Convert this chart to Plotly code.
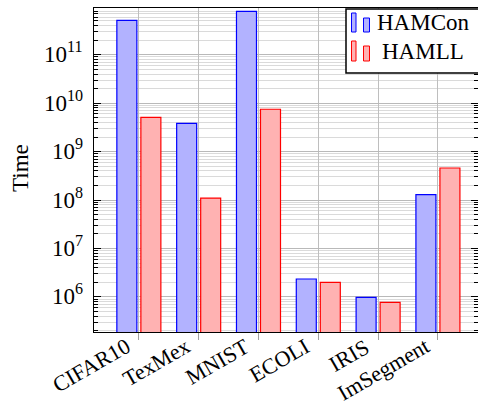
import plotly.graph_objects as go

# Runtime per dataset for the two methods
datasets = ["CIFAR10", "TexMex", "MNIST", "ECOLI", "IRIS", "ImSegment"]
hamcon = [5.1e11, 3.85e9, 7.85e11, 2.35e6, 9.8e5, 1.3e8]
hamll = [5.1e9, 1.1e8, 7.5e9, 2.0e6, 7.7e5, 4.6e8]
# decades labelled on the time axis
ytick_exponents = [6, 7, 8, 9, 10, 11]

FONT = "Liberation Serif"
BLUE_FILL, BLUE_LINE = "rgb(178,178,255)", "rgb(0,0,255)"
RED_FILL, RED_LINE = "rgb(255,178,178)", "rgb(255,0,0)"

fig = go.Figure()
fig.add_trace(go.Bar(x=datasets, y=hamcon, name="HAMCon",
                     marker=dict(color=BLUE_FILL, line=dict(color=BLUE_LINE, width=1.2))))
fig.add_trace(go.Bar(x=datasets, y=hamll, name="HAMLL",
                     marker=dict(color=RED_FILL, line=dict(color=RED_LINE, width=1.2))))

# plot area: x 94..478 px, y 8..332 px
L, R, T, B = 94, 478, 8, 332
W, H = R - L, B - T


def px(x):
    return (x - L) / W


def py(y):
    return (B - y) / H


shapes = []
annotations = []

# legend box with two-bar swatches
shapes.append(dict(type="rect", xref="paper", yref="paper", layer="above",
                   x0=px(346), x1=px(482), y0=py(73), y1=py(9),
                   fillcolor="white", line=dict(color="black", width=1.5)))
legend_rows = [("HAMCon", BLUE_FILL, BLUE_LINE, 13, 32, 23),
               ("HAMLL", RED_FILL, RED_LINE, 41, 61, 51)]
for label, fill, line, ytop, ybot, ymid in legend_rows:
    shapes.append(dict(type="rect", xref="paper", yref="paper", layer="above",
                       x0=px(351.5), x1=px(356), y0=py(ybot), y1=py(ytop),
                       fillcolor=fill, line=dict(color=line, width=1)))
    shapes.append(dict(type="rect", xref="paper", yref="paper", layer="above",
                       x0=px(363.5), x1=px(369.5), y0=py(ybot), y1=py(ytop + 5),
                       fillcolor=fill, line=dict(color=line, width=1)))
    annotations.append(dict(text=label, xref="paper", yref="paper",
                            x=px(423), y=py(ymid), xanchor="center", yanchor="middle",
                            showarrow=False, font=dict(family=FONT, size=23, color="black")))

# y tick labels (powers of ten)
for e in ytick_exponents:
    annotations.append(dict(text=f"10<sup>{e}</sup>", xref="paper", yref="y",
                            x=0, y=e, xanchor="right", yanchor="middle",
                            xshift=-9, yshift=2, showarrow=False,
                            font=dict(family=FONT, size=23, color="black")))

# rotated category labels
for name in datasets:
    annotations.append(dict(text=name, xref="x", yref="paper",
                            x=name, y=0, xanchor="right", yanchor="top",
                            xshift=-2, yshift=1, textangle=-30, showarrow=False,
                            font=dict(family=FONT, size=22, color="black")))

# y axis title
annotations.append(dict(text="Time", xref="paper", yref="paper",
                        x=px(20), y=py(168), xanchor="center", yanchor="middle",
                        textangle=-90, showarrow=False,
                        font=dict(family=FONT, size=23, color="black")))

fig.update_layout(
    width=478, height=412,
    margin=dict(l=L, r=478 - R, t=T, b=412 - B, autoexpand=False),
    paper_bgcolor="white", plot_bgcolor="white",
    barmode="group", bargap=0.197, bargroupgap=0.167,
    showlegend=False,
    font=dict(family=FONT, color="black"),
    shapes=shapes, annotations=annotations,
)

fig.update_xaxes(
    type="category", range=[-0.75, 5.67], automargin=False,
    showticklabels=False,
    showline=True, linecolor="black", linewidth=1.3, mirror=True,
    showgrid=True, gridcolor="rgb(190,190,190)", gridwidth=1,
    ticks="outside", ticklen=7, tickcolor="rgb(160,160,160)", tickwidth=1.3,
)

fig.update_yaxes(
    type="log", range=[5.277, 11.965], dtick=1,
    automargin=False, showticklabels=False,
    showline=True, linecolor="black", linewidth=1.3, mirror="ticks",
    showgrid=True, gridcolor="rgb(185,185,185)", gridwidth=1,
    ticks="inside", ticklen=7, tickcolor="black", tickwidth=1,
    minor=dict(dtick="D1", ticks="inside", ticklen=4, tickcolor="black",
               showgrid=True, gridcolor="rgb(218,218,218)", gridwidth=1),
    zeroline=False,
)

fig.write_html("out.html")
